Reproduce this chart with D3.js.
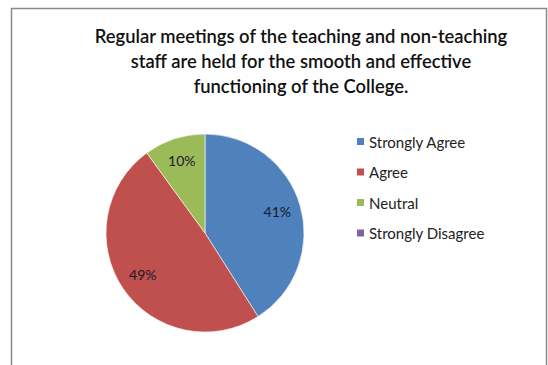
<!DOCTYPE html>
<html><head><meta charset="utf-8">
<script src="https://cdn.jsdelivr.net/npm/d3@7"></script>
<style>body{margin:0;background:#fff}svg{display:block}</style>
</head><body><div id="chart"></div>
<script>
const categories = ["Strongly Agree","Agree","Neutral","Strongly Disagree"];
const values = [41,49,10,0];
const colors = ["#4F81BD","#C0504D","#9BBB59","#8064A2"];
const titleLines = ["Regular meetings of the teaching and non-teaching","staff are held for the smooth and effective","functioning of the College."];

const W=548,H=365;
const svg=d3.select("#chart").append("svg").attr("width",W).attr("height",H);
svg.append("rect").attr("x",11.5).attr("y",8.5).attr("width",535).attr("height",370)
  .attr("fill","#fff").attr("stroke","#8a8a8a").attr("stroke-width",1.5);

const font="Lato, 'Open Sans', sans-serif";
svg.append("g").selectAll("text").data(titleLines).join("text")
  .attr("x",301).attr("y",(d,i)=>43+i*25).attr("text-anchor","middle")
  .attr("font-family",font).attr("font-size",18.4).attr("font-weight",600).attr("fill","#111")
  .text(d=>d);

const cx=205,cy=233,r=99;
const pie=d3.pie().sort(null).value(d=>d.v);
const data=pie(categories.map((c,i)=>({c,v:values[i],col:colors[i]})));
const arc=d3.arc().innerRadius(0).outerRadius(r);
const g=svg.append("g").attr("transform",`translate(${cx},${cy})`);
g.selectAll("path").data(data.filter(d=>d.data.v>0)).join("path")
  .attr("d",arc).attr("fill",d=>d.data.col).attr("stroke","#fff").attr("stroke-width",0.6);
const lab=d3.arc().innerRadius(r*0.76).outerRadius(r*0.76);
g.selectAll("text").data(data.filter(d=>d.data.v>0)).join("text")
  .attr("transform",d=>`translate(${lab.centroid(d)})`).attr("text-anchor","middle").attr("dy","0.35em")
  .attr("font-family",font).attr("font-size",14).attr("fill","#1a1a2a")
  .text(d=>d.data.v+"%");

const lg=svg.append("g").attr("transform","translate(357,138)");
const items=lg.selectAll("g").data(categories).join("g").attr("transform",(d,i)=>`translate(0,${i*30.5})`);
items.append("rect").attr("width",7).attr("height",7).attr("fill",(d,i)=>colors[i]);
items.append("text").attr("x",12).attr("y",9.5).attr("font-family",font).attr("font-size",15)
  .attr("fill","#222").text(d=>d);
</script></body></html>
